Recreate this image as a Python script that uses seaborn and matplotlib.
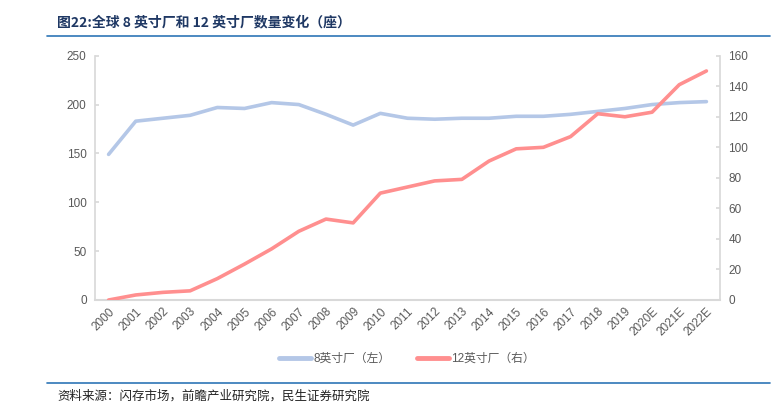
import matplotlib
matplotlib.use("Agg")
import matplotlib.pyplot as plt
import seaborn as sns
import pandas as pd
from matplotlib.lines import Line2D

years = ["2000", "2001", "2002", "2003", "2004", "2005", "2006", "2007", "2008", "2009",
         "2010", "2011", "2012", "2013", "2014", "2015", "2016", "2017", "2018", "2019",
         "2020E", "2021E", "2022E"]
fab8 = [149, 183, 186, 189, 197, 196, 202, 200, 190, 179,
        191, 186, 185, 186, 186, 188, 188, 190, 193, 196,
        200, 202, 203]
fab12 = [0, 3.3, 5, 6, 14, 23.5, 33.5, 45, 53, 50.5,
         70, 74, 78, 79, 91, 99, 100, 107, 122, 120,
         123, 141, 150]

title = "图22:全球 8 英寸厂和 12 英寸厂数量变化（座）"
source = "资料来源：闪存市场，前瞻产业研究院，民生证券研究院"
label8 = "8英寸厂（左）"
label12 = "12英寸厂（右）"

sns.set_theme(style="white")
plt.rcParams['font.family'] = ['Liberation Sans', 'Noto Sans CJK SC', 'DejaVu Sans']

c8 = "#B4C7E7"
c12 = "#FF8F8F"
tick_col = "#595959"
spine_col = "#D9D9D9"

df = pd.DataFrame({"year": years, "fab8": fab8, "fab12": fab12})

fig = plt.figure(figsize=(7.83, 4.04), dpi=100)
ax = fig.add_axes([95/783, 1-300/404, (720-95)/783, (300-55.7)/404])
ax2 = ax.twinx()

sns.lineplot(data=df, x="year", y="fab8", ax=ax, color=c8, linewidth=2.6, sort=False)
sns.lineplot(data=df, x="year", y="fab12", ax=ax2, color=c12, linewidth=2.6, sort=False)
for a in (ax, ax2):
    for ln in a.get_lines():
        ln.set_solid_capstyle("round")
        ln.set_solid_joinstyle("round")

ax.set_xlim(-0.5, len(years) - 0.5)
ax.set_ylim(0, 250)
ax.set_yticks([0, 50, 100, 150, 200, 250])
ax2.set_ylim(0, 160)
ax2.set_yticks([0, 20, 40, 60, 80, 100, 120, 140, 160])
ax.set_xlabel("")
ax.set_ylabel("")
ax2.set_ylabel("")
ax.grid(False)
ax2.grid(False)

ax.set_xticks(range(len(years)))
ax.set_xticklabels(years, rotation=45, ha="right", rotation_mode="anchor")

for a in (ax, ax2):
    for s in a.spines.values():
        s.set_visible(False)
ax.spines["left"].set_visible(True)
ax.spines["left"].set_color(spine_col)
ax.spines["bottom"].set_visible(True)
ax.spines["bottom"].set_color(spine_col)
ax.spines["bottom"].set_linewidth(1.5)
ax2.spines["right"].set_visible(True)
ax2.spines["right"].set_color(spine_col)

ax.tick_params(axis="y", labelsize=8.5, length=3, direction="in", color=spine_col, pad=6,
               labelcolor=tick_col)
ax.tick_params(axis="x", labelsize=8.5, length=0, pad=4, labelcolor=tick_col)
ax2.tick_params(axis="y", labelsize=8.5, length=3, direction="in", color=spine_col, pad=6,
                labelcolor=tick_col)

handles = [Line2D([0], [0], color=c8, lw=3.5), Line2D([0], [0], color=c12, lw=3.5)]
fig.legend(handles, [label8, label12], loc="center", bbox_to_anchor=(407/783, 1-359/404),
           ncol=2, frameon=False, fontsize=8.5, handlelength=2.7, handletextpad=0.15,
           columnspacing=2.3, labelcolor=tick_col)

fig.text(57/783, 1-22/404, title, fontsize=10, fontweight="bold", color="#1F3864",
         va="center", ha="left", family=['Noto Sans CJK SC', 'DejaVu Sans'])
fig.add_artist(Line2D([47/783, 770/783], [1-36/404, 1-36/404], color="#2E75B6", lw=1.2))
fig.add_artist(Line2D([47/783, 770/783], [1-383/404, 1-383/404], color="#2E75B6", lw=1.2))
fig.text(57/783, 1-396/404, source, fontsize=9, color="#222222", va="center", ha="left",
         family=['Noto Sans CJK SC', 'DejaVu Sans'])

fig.savefig("out.png", dpi=100)
